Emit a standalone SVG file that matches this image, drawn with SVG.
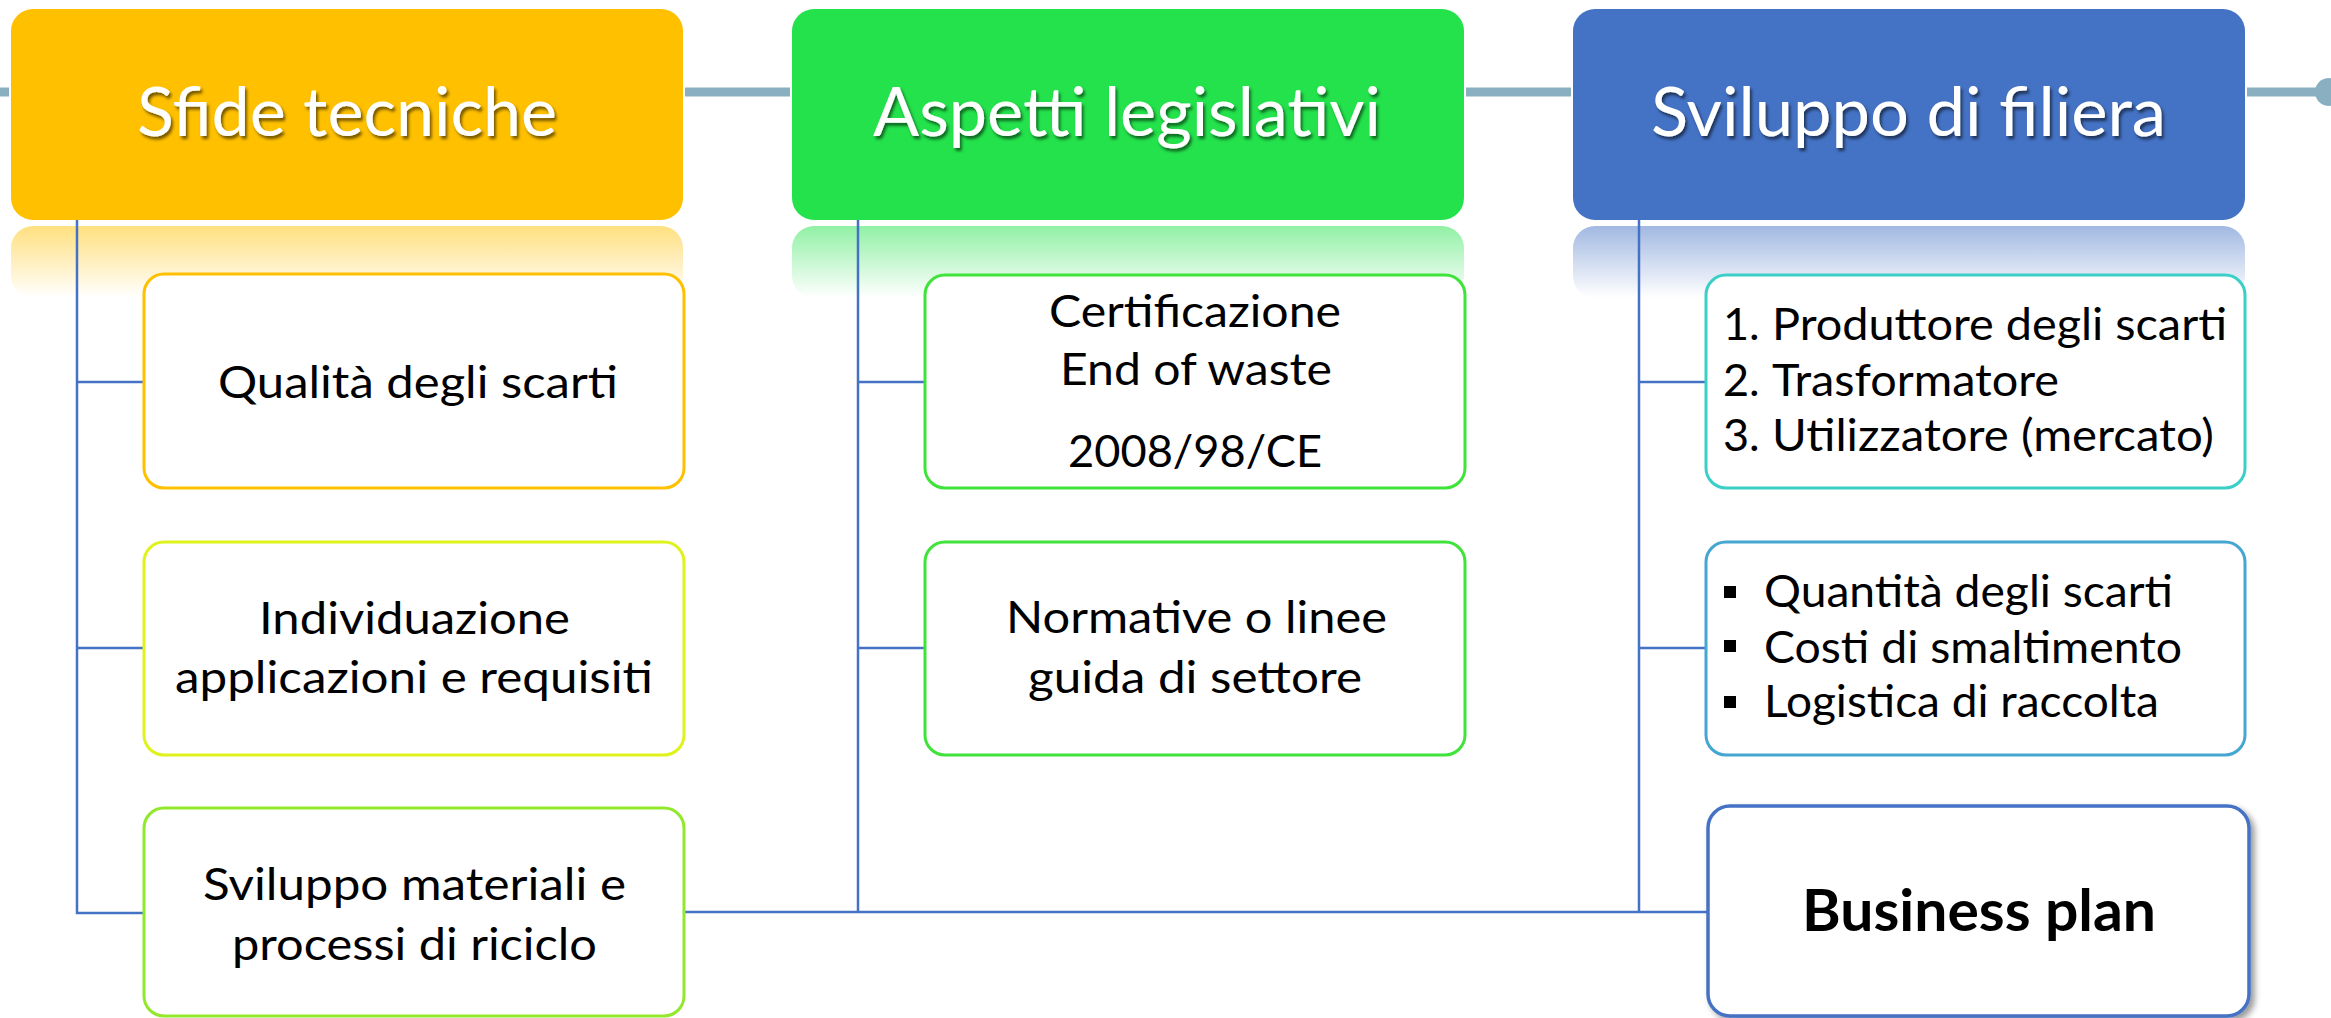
<svg xmlns="http://www.w3.org/2000/svg" width="2331" height="1018" viewBox="0 0 2331 1018">
<style>
.hdr{font-family:Lato,"Open Sans","Liberation Sans",sans-serif;font-size:67px;fill:#fff;text-anchor:start}
.txt{font-family:Lato,"Open Sans","Liberation Sans",sans-serif;font-size:45px;fill:#000}
.bold{font-family:Lato,"Open Sans","Liberation Sans",sans-serif;font-size:57px;font-weight:bold;fill:#000}
.box{fill:#fff;stroke-width:3}
.conn{stroke:#4472C4;stroke-width:2.5;fill:none}
.tl{stroke:#8AAFC0;stroke-width:9;fill:none}
</style>
<defs>
<filter id="ts" x="-10%" y="-20%" width="120%" height="150%">
<feDropShadow dx="2" dy="3" stdDeviation="1.5" flood-color="#000" flood-opacity="0.55"/>
</filter>
<filter id="bs" x="-10%" y="-10%" width="125%" height="125%">
<feDropShadow dx="4" dy="4" stdDeviation="3" flood-color="#000" flood-opacity="0.4"/>
</filter>
<linearGradient id="ry" x1="0" y1="0" x2="0" y2="1">
<stop offset="0" stop-color="#FFC000" stop-opacity="0.5"/>
<stop offset="1" stop-color="#FFC000" stop-opacity="0"/>
</linearGradient>
<linearGradient id="rg" x1="0" y1="0" x2="0" y2="1">
<stop offset="0" stop-color="#23E24B" stop-opacity="0.5"/>
<stop offset="1" stop-color="#23E24B" stop-opacity="0"/>
</linearGradient>
<linearGradient id="rb" x1="0" y1="0" x2="0" y2="1">
<stop offset="0" stop-color="#4472C4" stop-opacity="0.5"/>
<stop offset="1" stop-color="#4472C4" stop-opacity="0"/>
</linearGradient>
</defs>

<g id="timeline">
<line class="tl" x1="0" y1="92" x2="9" y2="92"/>
<line class="tl" x1="685" y1="92" x2="790" y2="92"/>
<line class="tl" x1="1466" y1="92" x2="1571" y2="92"/>
<line class="tl" x1="2247" y1="92" x2="2320" y2="92"/>
<circle cx="2329" cy="92" r="14" fill="#8AAFC0"/>
</g>

<g id="reflections">
<rect x="11" y="226" width="672" height="72" rx="22" fill="url(#ry)"/>
<rect x="792" y="226" width="672" height="72" rx="22" fill="url(#rg)"/>
<rect x="1573" y="226" width="672" height="72" rx="22" fill="url(#rb)"/>
</g>

<g id="connectors">
<polyline class="conn" points="77,220 77,913 144,913"/>
<line class="conn" x1="77" y1="382" x2="144" y2="382"/>
<line class="conn" x1="77" y1="648" x2="144" y2="648"/>
<polyline class="conn" points="858,220 858,912"/>
<line class="conn" x1="858" y1="382" x2="925" y2="382"/>
<line class="conn" x1="858" y1="648" x2="925" y2="648"/>
<polyline class="conn" points="1639,220 1639,912"/>
<line class="conn" x1="1639" y1="382" x2="1706" y2="382"/>
<line class="conn" x1="1639" y1="648" x2="1706" y2="648"/>
<line class="conn" x1="684" y1="912" x2="1708" y2="912"/>
</g>

<g id="h-sfide">
<rect x="11" y="9" width="672" height="211" rx="22" fill="#FFC000"/>
<text class="hdr" x="137" y="136" textLength="420" lengthAdjust="spacingAndGlyphs" filter="url(#ts)">Sfide tecniche</text>
</g>
<g id="h-aspetti">
<rect x="792" y="9" width="672" height="211" rx="22" fill="#23E24B"/>
<text class="hdr" x="873" y="136" textLength="508" lengthAdjust="spacingAndGlyphs" filter="url(#ts)">Aspetti legislativi</text>
</g>
<g id="h-sviluppo">
<rect x="1573" y="9" width="672" height="211" rx="22" fill="#4472C4"/>
<text class="hdr" x="1651" y="136" textLength="515" lengthAdjust="spacingAndGlyphs" filter="url(#ts)">Sviluppo di filiera</text>
</g>

<g id="n-qualita">
<rect class="box" x="144" y="274" width="540" height="214" rx="20" stroke="#FFC000"/>
<text class="txt" x="218" y="398" textLength="400" lengthAdjust="spacingAndGlyphs">Qualità degli scarti</text>
</g>
<g id="n-individuazione">
<rect class="box" x="144" y="542" width="540" height="213" rx="20" stroke="#DFF21C"/>
<text class="txt" x="259" y="634" textLength="311" lengthAdjust="spacingAndGlyphs">Individuazione</text>
<text class="txt" x="175" y="693" textLength="478" lengthAdjust="spacingAndGlyphs">applicazioni e requisiti</text>
</g>
<g id="n-materiali">
<rect class="box" x="144" y="808" width="540" height="208" rx="20" stroke="#92E82A"/>
<text class="txt" x="203" y="900" textLength="423" lengthAdjust="spacingAndGlyphs">Sviluppo materiali e</text>
<text class="txt" x="232" y="960" textLength="365" lengthAdjust="spacingAndGlyphs">processi di riciclo</text>
</g>

<g id="n-certificazione">
<rect class="box" x="925" y="275" width="540" height="213" rx="20" stroke="#3FE33A"/>
<text class="txt" x="1049" y="327" textLength="292" lengthAdjust="spacingAndGlyphs">Certificazione</text>
<text class="txt" x="1060" y="385" textLength="272" lengthAdjust="spacingAndGlyphs">End of waste</text>
<text class="txt" x="1068" y="467" textLength="254" lengthAdjust="spacingAndGlyphs">2008/98/CE</text>
</g>
<g id="n-normative">
<rect class="box" x="925" y="542" width="540" height="213" rx="20" stroke="#3FE33A"/>
<text class="txt" x="1006" y="633" textLength="381" lengthAdjust="spacingAndGlyphs">Normative o linee</text>
<text class="txt" x="1028" y="693" textLength="334" lengthAdjust="spacingAndGlyphs">guida di settore</text>
</g>

<g id="n-attori">
<rect class="box" x="1706" y="275" width="539" height="213" rx="20" stroke="#3CCFC8"/>
<text class="txt" x="1723" y="340">1.</text>
<text class="txt" x="1772" y="340" textLength="455" lengthAdjust="spacingAndGlyphs">Produttore degli scarti</text>
<text class="txt" x="1723" y="396">2.</text>
<text class="txt" x="1772" y="396" textLength="287" lengthAdjust="spacingAndGlyphs">Trasformatore</text>
<text class="txt" x="1723" y="451">3.</text>
<text class="txt" x="1772" y="451" textLength="442" lengthAdjust="spacingAndGlyphs">Utilizzatore (mercato)</text>
</g>
<g id="n-fattori">
<rect class="box" x="1706" y="542" width="539" height="213" rx="20" stroke="#46A6D2"/>
<rect x="1724" y="586" width="12" height="12" fill="#000"/>
<rect x="1724" y="640" width="12" height="12" fill="#000"/>
<rect x="1724" y="696" width="12" height="12" fill="#000"/>
<text class="txt" x="1764" y="607" textLength="409" lengthAdjust="spacingAndGlyphs">Quantità degli scarti</text>
<text class="txt" x="1764" y="663" textLength="418" lengthAdjust="spacingAndGlyphs">Costi di smaltimento</text>
<text class="txt" x="1764" y="717" textLength="395" lengthAdjust="spacingAndGlyphs">Logistica di raccolta</text>
</g>
<g id="n-business">
<rect x="1708" y="806" width="541" height="210" rx="22" fill="#fff" stroke="#4472C4" stroke-width="3.5" filter="url(#bs)"/>
<text class="bold" x="1802" y="931" textLength="354" lengthAdjust="spacingAndGlyphs">Business plan</text>
</g>
</svg>
